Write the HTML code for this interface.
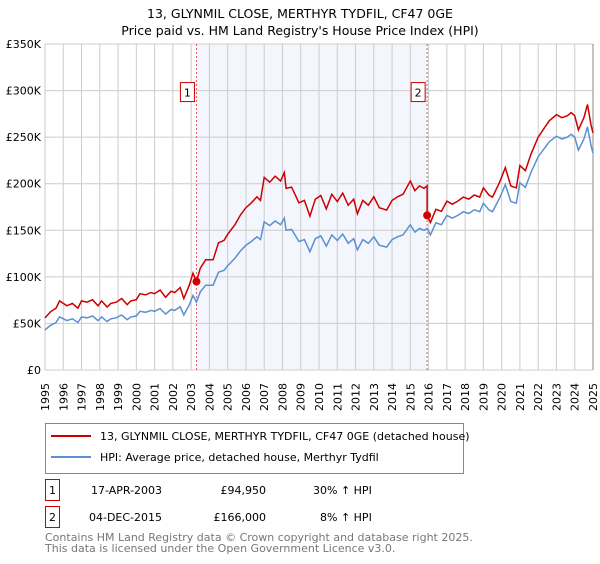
<!DOCTYPE html>
<html><head><meta charset="utf-8"><style>
body{margin:0;background:#fff;width:600px;height:560px;overflow:hidden;font-family:"DejaVu Sans","Liberation Sans",sans-serif;}
svg text{font-family:"DejaVu Sans","Liberation Sans",sans-serif;}
</style></head><body>
<svg id="c" width="600" height="560">
<text x="300" y="18" text-anchor="middle" font-size="12.5">13, GLYNMIL CLOSE, MERTHYR TYDFIL, CF47 0GE</text>
<text x="300" y="35" text-anchor="middle" font-size="12.5">Price paid vs. HM Land Registry's House Price Index (HPI)</text>
<g id="plot"></g>
<g>
<rect x="45.5" y="423.5" width="418" height="50" fill="#fff" stroke="#888"/>
<line x1="51" y1="436" x2="91" y2="436" stroke="#cc0000" stroke-width="2"/>
<text x="100" y="440" font-size="11">13, GLYNMIL CLOSE, MERTHYR TYDFIL, CF47 0GE (detached house)</text>
<line x1="51" y1="457" x2="91" y2="457" stroke="#5b8fd0" stroke-width="2"/>
<text x="100" y="461" font-size="11">HPI: Average price, detached house, Merthyr Tydfil</text>
</g>
<g font-size="11">
<rect x="45.5" y="479.5" width="14" height="21" fill="#fff" stroke="#cc0000"/>
<text x="52.5" y="494" text-anchor="middle">1</text>
<text x="91" y="494">17-APR-2003</text>
<text x="266" y="494" text-anchor="end">£94,950</text>
<text x="313" y="494">30% ↑ HPI</text>
<rect x="45.5" y="506.5" width="14" height="21" fill="#fff" stroke="#cc0000"/>
<text x="52.5" y="521" text-anchor="middle">2</text>
<text x="89" y="521">04-DEC-2015</text>
<text x="266" y="521" text-anchor="end">£166,000</text>
<text x="320" y="521">8% ↑ HPI</text>
</g>
<text x="45" y="541" font-size="11" fill="#777">Contains HM Land Registry data © Crown copyright and database right 2025.</text>
<text x="45" y="552" font-size="11" fill="#777">This data is licensed under the Open Government Licence v3.0.</text>
</svg>
<script>
const yearTicks=[1995,1996,1997,1998,1999,2000,2001,2002,2003,2004,2005,2006,2007,2008,2009,2010,2011,2012,2013,2014,2015,2016,2017,2018,2019,2020,2021,2022,2023,2024,2025];
const valueTicks=[0,50000,100000,150000,200000,250000,300000,350000];
const valueTickLabels=["£0","£50K","£100K","£150K","£200K","£250K","£300K","£350K"];
const hpiDates=[1995,1995.3,1995.6,1995.8,1996.2,1996.5,1996.8,1997,1997.3,1997.6,1997.9,1998.1,1998.4,1998.6,1998.9,1999.2,1999.5,1999.7,2000,2000.2,2000.5,2000.8,2001,2001.3,2001.6,2001.9,2002.1,2002.4,2002.6,2002.9,2003.1,2003.29,2003.5,2003.8,2004.2,2004.5,2004.8,2005,2005.4,2005.7,2006,2006.3,2006.6,2006.8,2007,2007.3,2007.6,2007.9,2008.1,2008.2,2008.5,2008.9,2009.2,2009.5,2009.8,2010.1,2010.4,2010.7,2011,2011.3,2011.6,2011.9,2012.1,2012.4,2012.7,2013,2013.3,2013.7,2014,2014.3,2014.6,2015,2015.25,2015.5,2015.75,2015.92,2016.1,2016.4,2016.7,2017,2017.3,2017.6,2017.9,2018.2,2018.5,2018.8,2019,2019.3,2019.5,2019.9,2020.2,2020.5,2020.8,2021,2021.3,2021.6,2022,2022.3,2022.6,2023,2023.3,2023.6,2023.8,2024,2024.2,2024.5,2024.7,2024.9,2025];
const hpiValues=[43,48,51,57,53,55,51,57,56,58,53,57,52,55,56,59,54,57,58,63,62,64,63,66,60,65,64,68,59,70,80,73,84,91,91,105,107,112,120,128,134,138,143,140,159,155,160,156,163,150,151,138,140,127,141,144,133,145,139,146,136,141,129,140,136,143,134,132,140,143,145,156,148,152,150,152,145,158,156,166,163,166,170,168,172,170,179,172,170,185,199,181,179,201,196,212,229,237,245,251,248,250,253,250,236,248,261,240,233];
const salePrices=[94950,166000];
const saleDates=[2003.29,2015.92];
const X0=45,X1=593,Y0=370,Y1=44;
const xs=y=>X0+(y-1995)/30*(X1-X0);
const ys=v=>Y0-v/350000*(Y0-Y1);
const NS="http://www.w3.org/2000/svg";
const plot=document.getElementById('plot');
function mk(t,a,p){const e=document.createElementNS(NS,t);for(const k in a)e.setAttribute(k,a[k]);(p||plot).appendChild(e);return e;}
let r=mk('rect',{x:xs(saleDates[0]),y:Y1,width:xs(saleDates[1])-xs(saleDates[0]),height:Y0-Y1,fill:'#eef3fc',opacity:0.7});


yearTicks.forEach(y=>{const l=mk('line',{x1:xs(y),x2:xs(y),y1:Y1,y2:Y0,stroke:'#ccc'});


const t=mk('text',{transform:`translate(${xs(y)+4},${Y0+13}) rotate(-90)`,'font-size':11,'text-anchor':'end'});t.textContent=y;

});
valueTicks.forEach((v,i)=>{const l=mk('line',{x1:X0,x2:X1,y1:ys(v),y2:ys(v),stroke:'#ccc'});


const t=mk('text',{x:X0-4,y:ys(v)+4,'font-size':11,'text-anchor':'end'});t.textContent=valueTickLabels[i];

});
const rl=mk('line',{x1:X1,x2:X1,y1:Y1,y2:Y0,stroke:'#888'});


saleDates.forEach((d,i)=>{const l=mk('line',{x1:xs(d),x2:xs(d),y1:Y1,y2:Y0,stroke:'#e55','stroke-dasharray':'2,2'});

});
// hpi value at sale dates
const hAt=d=>{for(let i=1;i<hpiDates.length;i++)if(hpiDates[i]>=d){const f=(d-hpiDates[i-1])/(hpiDates[i]-hpiDates[i-1]);return (hpiValues[i-1]+f*(hpiValues[i]-hpiValues[i-1]))*1000;}return hpiValues[hpiValues.length-1]*1000;};
const ratio1=salePrices[0]/hAt(saleDates[0]),ratio2=salePrices[1]/hAt(saleDates[1]);
let bp='',rp='';
hpiDates.forEach((d,i)=>{const v=hpiValues[i]*1000;bp+=(i?'L':'M')+xs(d).toFixed(1)+','+ys(v).toFixed(1);
if(d<=saleDates[1]){rp+=(i?'L':'M')+xs(d).toFixed(1)+','+ys(v*ratio1).toFixed(1);}
if(d>=saleDates[1]){if(d===saleDates[1])rp+='L'+xs(d).toFixed(1)+','+ys(v*ratio2).toFixed(1);else rp+='L'+xs(d).toFixed(1)+','+ys(v*ratio2).toFixed(1);}});
const bl=mk('path',{d:bp,fill:'none',stroke:'#5b8fd0','stroke-width':1.5});


const rdl=mk('path',{d:rp,fill:'none',stroke:'#cc0000','stroke-width':1.5});


saleDates.forEach((d,i)=>{const c=mk('circle',{cx:xs(d),cy:ys(salePrices[i]),r:4,fill:'#cc0000'});


const bx=xs(d)-16,by=ys(300000)-8;
const b=mk('rect',{x:bx,y:by,width:14,height:19,fill:'#fff',stroke:'#cc0000'});


const t=mk('text',{x:bx+7,y:by+14,'font-size':11,'text-anchor':'middle'});t.textContent=i+1;

});
</script>
</body></html>
